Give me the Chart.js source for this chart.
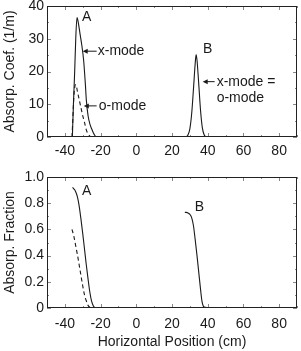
<!DOCTYPE html>
<html>
<head>
<meta charset="utf-8">
<script src="https://cdn.jsdelivr.net/npm/chart.js@4.4.1/dist/chart.umd.min.js"></script>
<style>
  html, body { margin: 0; padding: 0; background: #fff; }
  canvas { position: absolute; left: 0; }
  #coef { top: 0; }
  #frac { top: 160px; }
</style>
</head>
<body>
<canvas id="coef" width="301" height="160"></canvas>
<canvas id="frac" width="301" height="191"></canvas>
<script>
// axis ticks
const xTicks = [-40, -20, 0, 20, 40, 60, 80];
const coefTicks = [0, 10, 20, 30, 40];
const fracTicks = [0, 0.2, 0.4, 0.6, 0.8, 1.0];
const fracLabels = ['0', '0.2', '0.4', '0.6', '0.8', '1.0'];

// top panel: absorption coefficient (1/m)
const coefXmodeA_x = [-35.8, -35.2, -34.5, -33.9, -33.2, -32.5, -31.5, -30.5, -29.5, -28.5, -28, -27, -26, -25, -24, -23, -22.4];
const coefXmodeA_y = [0, 10, 20, 30, 36.5, 35, 31.5, 28, 23.5, 16, 11.5, 6.5, 4, 2.5, 1.2, 0.3, 0];
const coefOmodeA_x = [-36, -35.5, -35, -34.5, -34, -33.5, -33, -32, -31, -30, -29, -28, -27, -26, -25.2];
const coefOmodeA_y = [0, 6, 12, 15, 16, 15.5, 14, 11.5, 9, 6.5, 4.5, 2.2, 1, 0.3, 0];
const coefB_x = [28, 29, 30, 31, 32, 33, 33.5, 34, 35, 36, 37, 38, 39];
const coefB_y = [0, 0.7, 2.5, 7, 14.5, 22.5, 25.2, 23.5, 16, 8, 2.8, 0.7, 0];

// bottom panel: absorption fraction
const fracXmodeA_x = [-35.7, -35, -34, -33, -32, -31, -30, -29, -28, -27, -26, -25, -24, -23.2];
const fracXmodeA_y = [0.92, 0.91, 0.89, 0.85, 0.78, 0.68, 0.57, 0.45, 0.33, 0.22, 0.12, 0.05, 0.015, 0];
const fracOmodeA_x = [-36, -35, -34, -33, -32, -31, -30, -29, -28, -27, -26, -25.5];
const fracOmodeA_y = [0.6, 0.55, 0.48, 0.41, 0.33, 0.25, 0.17, 0.1, 0.055, 0.02, 0.005, 0];
const fracB_x = [27.2, 28, 29, 30, 31, 32, 33, 34, 35, 36, 36.8, 37.5, 38, 40, 44];
const fracB_y = [0.73, 0.73, 0.725, 0.715, 0.69, 0.63, 0.52, 0.40, 0.27, 0.14, 0.05, 0.015, 0.008, 0.003, 0];

// annotations (data coordinates)
const coefNotes = [
  { text: 'A', x: -30.4, y: 36.6 },
  { text: 'x-mode', x: -21.6, y: 26.2, arrowFrom: -22.2, arrowTo: -30 },
  { text: 'o-mode', x: -21.0, y: 9.5, arrowFrom: -22.2, arrowTo: -29.4 },
  { text: 'B', x: 37.4, y: 26.8 },
  { text: 'x-mode =', x: 45, y: 16.9, arrowFrom: 43.9, arrowTo: 37.2 },
  { text: 'o-mode', x: 45, y: 11.9 }
];
const fracNotes = [
  { text: 'A', x: -30.4, y: 0.895 },
  { text: 'B', x: 32.8, y: 0.773 }
];

const FONT = "'Liberation Sans', Arial, sans-serif";
const INK = '#1a1a1a';

function pts(xs, ys) {
  return xs.map((x, i) => ({ x: x, y: ys[i] }));
}

function curve(xs, ys, dashed) {
  return {
    data: pts(xs, ys),
    borderColor: INK,
    borderWidth: 1.1,
    borderDash: dashed ? [4, 3] : [],
    pointRadius: 0,
    fill: false,
    cubicInterpolationMode: 'monotone'
  };
}

const framePlugin = {
  id: 'frame',
  afterDatasetsDraw(chart, args, opts) {
    const { ctx, chartArea: a, scales: { x, y } } = chart;
    ctx.save();
    ctx.strokeStyle = '#888';
    ctx.lineWidth = 1;
    const line = (x1, y1, x2, y2) => { ctx.beginPath(); ctx.moveTo(x1, y1); ctx.lineTo(x2, y2); ctx.stroke(); };
    const xs = x.ticks.map(t => t.value);
    const xStep = xs[1] - xs[0];
    xs.forEach(v => {
      [v, v - xStep / 2, v + xStep / 2].forEach((m, k) => {
        if (m < x.min || m > x.max) return;
        const p = Math.round(x.getPixelForValue(m)) + 0.5;
        const len = k === 0 ? 4 : 2;
        line(p, a.bottom, p, a.bottom - len);
        line(p, a.top, p, a.top + len);
      });
    });
    const ys = y.ticks.map(t => t.value);
    const yStep = ys[1] - ys[0];
    ys.forEach(v => {
      [v, v + yStep / 2].forEach((m, k) => {
        if (m < y.min || m > y.max) return;
        const p = Math.round(y.getPixelForValue(m)) + 0.5;
        const len = k === 0 ? 4 : 2;
        line(a.left, p, a.left + len, p);
        line(a.right, p, a.right - len, p);
      });
    });
    ctx.strokeStyle = '#222';
    ctx.strokeRect(a.left + 0.5, a.top + 0.5, a.right - a.left - 1, a.bottom - a.top - 1);

    // annotations
    ctx.fillStyle = INK;
    ctx.strokeStyle = INK;
    ctx.font = '14px ' + FONT;
    ctx.textBaseline = 'middle';
    ctx.textAlign = 'left';
    (opts.notes || []).forEach(n => {
      const py = y.getPixelForValue(n.y);
      ctx.fillText(n.text, x.getPixelForValue(n.x), py);
      if (n.arrowFrom !== undefined) {
        const x1 = x.getPixelForValue(n.arrowFrom);
        const x2 = x.getPixelForValue(n.arrowTo);
        ctx.lineWidth = 1;
        line(x1, py, x2 + 3, py);
        ctx.beginPath();
        ctx.moveTo(x2, py);
        ctx.lineTo(x2 + 5, py - 2.5);
        ctx.lineTo(x2 + 5, py + 2.5);
        ctx.closePath();
        ctx.fill();
      }
    });
    ctx.restore();
  }
};

function makeChart(id, datasets, yTicks, yFmt, yMax, yTitle, showXTitle, notes, padTop, xHeight, xPad) {
  return new Chart(document.getElementById(id), {
    type: 'line',
    data: { datasets: datasets },
    plugins: [framePlugin],
    options: {
      responsive: false,
      animation: false,
      devicePixelRatio: 1,
      layout: { padding: { top: padTop, right: 4, bottom: 0, left: 0 } },
      plugins: {
        legend: { display: false },
        tooltip: { enabled: false },
        frame: { notes: notes }
      },
      scales: {
        x: {
          type: 'linear',
          min: -50,
          max: 90,
          afterBuildTicks: s => { s.ticks = xTicks.map(v => ({ value: v })); },
          afterFit: s => { s.height = xHeight; s.paddingLeft = 0; s.paddingRight = 0; },
          grid: { display: false, drawTicks: false },
          border: { display: false },
          ticks: { color: INK, padding: xPad, maxRotation: 0, autoSkip: false, font: { family: FONT, size: 14 } },
          title: {
            display: showXTitle,
            text: 'Horizontal Position (cm)',
            color: INK,
            padding: { top: 2, bottom: 0 },
            font: { family: FONT, size: 14 }
          }
        },
        y: {
          min: 0,
          max: yMax,
          afterBuildTicks: s => { s.ticks = yTicks.map(v => ({ value: v })); },
          afterFit: s => { s.width = 47; s.paddingTop = 0; s.paddingBottom = 0; },
          grid: { display: false, drawTicks: false },
          border: { display: false },
          ticks: { color: INK, padding: 3, autoSkip: false, font: { family: FONT, size: 14 }, callback: yFmt },
          title: {
            display: true,
            text: yTitle,
            color: INK,
            padding: { top: 2, bottom: 0 },
            font: { family: FONT, size: 14 }
          }
        }
      }
    }
  });
}

makeChart('coef', [
  curve(coefXmodeA_x, coefXmodeA_y, false),
  curve(coefOmodeA_x, coefOmodeA_y, true),
  curve(coefB_x, coefB_y, false)
], coefTicks, v => String(v), 40, 'Absorp. Coef. (1/m)', false, coefNotes, 6, 23, 6);

makeChart('frac', [
  curve(fracXmodeA_x, fracXmodeA_y, false),
  curve(fracOmodeA_x, fracOmodeA_y, true),
  curve(fracB_x, fracB_y, false)
], fracTicks, (v, i) => fracLabels[i], 1.0, 'Absorp. Fraction', true, fracNotes, 17, 43, 8);
</script>
</body>
</html>
